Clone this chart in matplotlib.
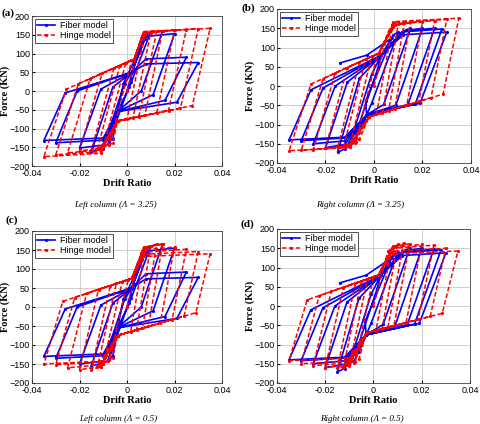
import matplotlib
matplotlib.use("Agg")
import matplotlib.pyplot as plt

# ---- loop data ----
# each row: (peak drift +, peak force +, peak drift -, peak force -,
#            force after unloading from +, force after unloading from -)
# shape: (unload width +, unload width -, upper pinch x, upper pinch F,
#         lower pinch x, lower pinch F, knee +, knee -)

A_HINGE = [(0.0075, 150, -0.0075, -145, -75, 82),
           (0.01, 156, -0.01, -150, -72, 75),
           (0.0125, 160, -0.0125, -155, -68, 68),
           (0.015, 161, -0.015, -158, -65, 61),
           (0.02, 162, -0.02, -160, -59, 47),
           (0.025, 164, -0.025, -165, -52, 33),
           (0.03, 166, -0.03, -170, -46, 19),
           (0.035, 167, -0.035, -175, -39, 5)]
A_HINGE_SHAPE = (0.0075, 0.0095, 0.003, 85, -0.004, -80, 0.007, 0.011)

A_FIBER = [(0.0075, 140, -0.0075, -135, 20, 25),
           (0.01, 158, -0.01, -150, 10, 20),
           (0.015, 160, -0.015, -162, 0, 10),
           (0.02, 153, -0.02, -152, -10, 5),
           (0.025, 90, -0.03, -138, -25, 0),
           (0.03, 76, -0.035, -132, -30, -5)]
A_FIBER_SHAPE = (0.009, 0.009, 0.002, 50, -0.004, -55, 0.008, 0.01)

B_HINGE = [(0.0075, 150, -0.0075, -145, -74, 84),
           (0.01, 160, -0.01, -155, -69, 76),
           (0.0125, 163, -0.0125, -158, -65, 69),
           (0.015, 165, -0.015, -160, -60, 62),
           (0.02, 167, -0.02, -162, -50, 48),
           (0.025, 170, -0.025, -165, -40, 34),
           (0.03, 173, -0.03, -167, -30, 19),
           (0.035, 176, -0.035, -168, -21, 5)]
B_HINGE_SHAPE = (0.0065, 0.009, 0.002, 85, -0.002, -80, 0.008, 0.01)

B_FIBER = [(0.0075, 125, -0.0075, -125, -40, 45),
           (0.01, 140, -0.01, -150, -45, 30),
           (0.015, 150, -0.015, -172, -48, 20),
           (0.02, 150, -0.02, -160, -50, 10),
           (0.025, 150, -0.025, -150, -48, 0),
           (0.028, 148, -0.03, -142, -47, -5),
           (0.03, 140, -0.035, -140, -45, -10)]
B_FIBER_SHAPE = (0.011, 0.009, 0.003, 80, -0.003, -75, 0.012, 0.012)
B_FIBER_START = ([-0.014, -0.003], [60, 80])

C_HINGE = [(0.0075, 150, -0.0075, -140, -65, 72),
           (0.01, 160, -0.01, -150, -60, 67),
           (0.0125, 165, -0.0125, -158, -56, 62),
           (0.015, 165, -0.015, -165, -51, 56),
           (0.02, 158, -0.02, -165, -42, 46),
           (0.025, 152, -0.025, -160, -33, 36),
           (0.03, 146, -0.03, -152, -24, 25),
           (0.035, 140, -0.035, -150, -15, 15)]
C_HINGE_SHAPE = (0.006, 0.008, 0.002, 75, -0.004, -75, 0.007, 0.011)

C_FIBER = [(0.0075, 140, -0.0075, -135, 20, 25),
           (0.01, 160, -0.01, -148, 10, 20),
           (0.015, 166, -0.015, -155, 0, 10),
           (0.02, 155, -0.02, -150, -10, 5),
           (0.025, 92, -0.03, -135, -25, 0),
           (0.03, 78, -0.035, -130, -30, -5)]
C_FIBER_SHAPE = (0.009, 0.009, 0.002, 50, -0.004, -55, 0.008, 0.01)

D_HINGE = [(0.0075, 150, -0.0075, -145, -64, 76),
           (0.01, 160, -0.01, -155, -60, 70),
           (0.0125, 163, -0.0125, -160, -55, 65),
           (0.015, 162, -0.015, -162, -51, 59),
           (0.02, 160, -0.02, -160, -43, 48),
           (0.025, 158, -0.025, -155, -35, 38),
           (0.03, 150, -0.03, -150, -27, 27),
           (0.035, 143, -0.035, -142, -19, 16)]
D_HINGE_SHAPE = (0.0065, 0.0075, 0.002, 80, -0.003, -70, 0.008, 0.01)

D_FIBER = [(0.0075, 125, -0.0075, -125, -40, 45),
           (0.01, 140, -0.01, -150, -45, 30),
           (0.015, 150, -0.015, -171, -48, 20),
           (0.02, 150, -0.02, -160, -50, 10),
           (0.025, 148, -0.025, -150, -48, 0),
           (0.028, 146, -0.03, -142, -47, -5),
           (0.03, 138, -0.035, -140, -45, -10)]
D_FIBER_SHAPE = (0.011, 0.009, 0.003, 80, -0.003, -75, 0.012, 0.012)
D_FIBER_START = ([-0.014, -0.003], [60, 80])

PANELS = ["(a)", "(b)", "(c)", "(d)"]
CAPTIONS = ["Left column (\u039b = 3.25)", "Right column (\u039b = 3.25)",
            "Left column (\u039b = 0.5)", "Right column (\u039b = 0.5)"]
X_TICKS = [-0.04, -0.02, 0, 0.02, 0.04]
X_LABELS = ["-0.04", "-0.02", "0", "0.02", "0.04"]
Y_TICKS = [-200, -150, -100, -50, 0, 50, 100, 150, 200]


def build_path(rows, shape, start=([0.0], [0.0])):
    du_p, du_n, pux, puf, plx, plf, knp, knn = shape
    xs, fs = list(start[0]), list(start[1])
    for ap, fp, an, fn, cp, cn in rows:
        kp = min(knp, 0.8 * ap)
        kn = max(-knn, 0.8 * an)
        xs += [kp, ap, ap - du_p, plx, kn, an, an + du_n, pux]
        fs += [0.95 * fp, fp, cp, plf, 0.95 * fn, fn, cn, puf]
    return xs, fs


fig = plt.figure(figsize=(4.81, 4.24), dpi=100)
W, H = 481.0, 424.0
boxes = [(32, 16, 222, 166), (277, 9, 471, 163),
         (32, 231, 222, 383), (277, 229, 470, 383)]
data = [(A_FIBER, A_FIBER_SHAPE, ([0.0], [0.0]), A_HINGE, A_HINGE_SHAPE),
        (B_FIBER, B_FIBER_SHAPE, B_FIBER_START, B_HINGE, B_HINGE_SHAPE),
        (C_FIBER, C_FIBER_SHAPE, ([0.0], [0.0]), C_HINGE, C_HINGE_SHAPE),
        (D_FIBER, D_FIBER_SHAPE, D_FIBER_START, D_HINGE, D_HINGE_SHAPE)]
label_pos = [(2, 13), (242, 8), (5, 220), (241, 224)]
cap_pos = [(115, 205), (360, 205), (118, 419), (362, 419)]

for i, (x0, y0, x1, y1) in enumerate(boxes):
    ax = fig.add_axes([x0 / W, 1 - y1 / H, (x1 - x0) / W, (y1 - y0) / H])
    fib, fib_sh, fib_st, hin, hin_sh = data[i]

    hx, hf = build_path(hin, hin_sh)
    fx, ff = build_path(fib, fib_sh, fib_st)
    ax.plot(fx, ff, color="#0000ff", lw=1.2, marker=".", ms=2.5,
            label="Fiber model", zorder=3)
    ax.plot(hx, hf, color="#ff0000", lw=1.1, ls=(0, (3, 1.5)), marker=".",
            ms=2.5, label="Hinge model", zorder=4)

    ax.set_xlim(-0.04, 0.04)
    ax.set_ylim(-200, 200)
    ax.set_xticks(X_TICKS)
    ax.set_xticklabels(X_LABELS)
    ax.set_yticks(Y_TICKS)
    ax.tick_params(direction="in", labelsize=6.5, length=2.5, pad=1.5)
    ax.tick_params(axis="x", pad=2.5)
    for t in ax.get_xticklabels() + ax.get_yticklabels():
        t.set_family("Liberation Sans")
    ax.grid(True, color="#c8c8c8", lw=0.6)
    ax.set_axisbelow(True)
    for s in ax.spines.values():
        s.set_linewidth(0.6)
        s.set_color("#404040")
    ax.set_xlabel("Drift Ratio", family="Liberation Serif", weight="bold",
                  fontsize=7.5, labelpad=0.5)
    ax.set_ylabel("Force (KN)", family="Liberation Serif", weight="bold",
                  fontsize=7.5)
    ax.yaxis.set_label_coords(-22 / (x1 - x0), 0.5)
    leg = ax.legend(loc="upper left", frameon=True, fancybox=False,
                    borderpad=0.25, handlelength=2.0, handletextpad=0.5,
                    labelspacing=0.1, borderaxespad=0.35,
                    prop={"family": "Liberation Sans", "size": 6.5})
    leg.get_frame().set_edgecolor("black")
    leg.get_frame().set_linewidth(0.6)

    lx, ly = label_pos[i]
    fig.text(lx / W, 1 - ly / H, PANELS[i], family="Liberation Serif",
             weight="bold", fontsize=8, va="center", ha="left")
    cx, cy = cap_pos[i]
    fig.text(cx / W, 1 - cy / H, CAPTIONS[i], family="Liberation Serif",
             style="italic", fontsize=6.5, va="center", ha="center")

fig.savefig("out.png", dpi=100)
